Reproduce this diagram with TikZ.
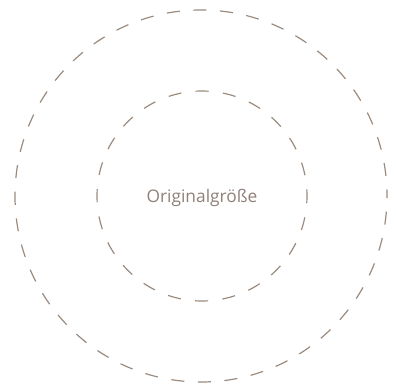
\documentclass[tikz,border=0pt]{standalone}
\usepackage{fontspec}
\setmainfont{Open Sans}
\usetikzlibrary{positioning}
\definecolor{ringgray}{HTML}{9B8B7E}
\definecolor{textgray}{HTML}{8E8079}

\begin{document}
\begin{tikzpicture}[x=0.75pt,y=0.75pt,every node/.style={font=\fontsize{13}{15}\selectfont}]
\useasboundingbox (0,0) rectangle (396,390);
% outer ring
\draw[ringgray,line width=0.9pt,dash pattern=on 9.8pt off 10.2pt,dash phase=4.9pt] (201,194) circle (186);
% inner ring
\draw[ringgray,line width=0.9pt,dash pattern=on 9.8pt off 10.8pt,dash phase=4.9pt] (202,194) circle (105);
% label
\node[text=textgray] (size) at (202,192) {Originalgröße};
\end{tikzpicture}
\end{document}
